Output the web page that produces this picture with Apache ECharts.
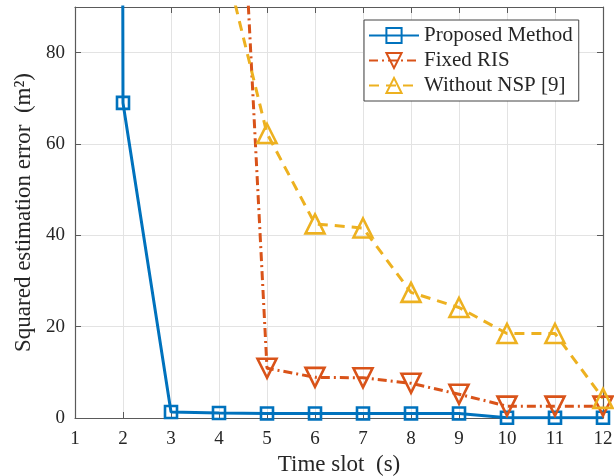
<!DOCTYPE html>
<html>
<head>
<meta charset="utf-8">
<script src="https://cdn.jsdelivr.net/npm/echarts@6/dist/echarts.min.js"></script>
<style>
html,body{margin:0;padding:0;background:#fff;overflow:hidden;}
#c{width:614px;height:476px;}
</style>
</head>
<body>
<div id="c"></div>
<script>
const timeSlots = [1,2,3,4,5,6,7,8,9,10,11,12];
const proposed = [5000, 69, 1.3, 1.1, 1.0, 1.0, 1.0, 1.0, 1.0, 0.05, 0.05, 0.05];
const fixedRIS = [215, 215, 215, 215, 10.9, 8.9, 8.8, 7.6, 5.2, 2.6, 2.6, 2.6];
const withoutNSP = [105, 105, 105, 105, 62.3, 42.5, 41.6, 27.5, 24.2, 18.5, 18.5, 4.3];
const seriesNames = ['Proposed Method', 'Fixed RIS', 'Without NSP [9]'];
const yTicks = [0, 20, 40, 60, 80];

// Fixed RIS / Without NSP start at slot 4 (off-scale there)
const fixedStart = 3, nspStart = 3;
function pairs(xs, ys, start) {
  const out = [];
  for (let i = start; i < xs.length; i++) out.push([xs[i], ys[i]]);
  return out;
}

const font = 'Liberation Serif';
const axisCol = '#5a5a5a';
const txtCol = '#262626';

const chart = echarts.init(document.getElementById('c'), null, {renderer: 'canvas'});
const colors = ['#0072BD', '#D95319', '#EDB120'];

function mk(name, data, color, symbol, rotate, size, ltype) {
  return {
    name: name, type: 'line', data: data, clip: true,
    symbol: symbol, symbolSize: size, symbolRotate: rotate,
    showSymbol: true,
    lineStyle: {color: color, width: 3, type: ltype},
    itemStyle: {color: 'rgba(255,255,255,0)', borderColor: color, borderWidth: 2.6},
    emphasis: {disabled: true},
    animation: false, z: 3
  };
}

function markers(data, max) {
  return data.map(p => ({value: p, symbolSize: p[1] > max ? 0 : undefined}));
}

const option = {
  animation: false,
  backgroundColor: '#fff',
  grid: {left: 75, right: 11, top: 7, bottom: 58, show: false, containLabel: false, outerBoundsMode: 'none'},
  legend: {
    orient: 'vertical', left: 364, top: 20,
    backgroundColor: '#fff', borderColor: '#444', borderWidth: 1,
    padding: [5, 6, 5, 4], itemGap: 4, itemWidth: 50, itemHeight: 19,
    textStyle: {fontFamily: font, fontSize: 21, color: txtCol},
    data: seriesNames
  },
  xAxis: [{
    type: 'value', min: 1, max: 12, interval: 1,
    name: 'Time slot  (s)', nameLocation: 'middle', nameGap: 35,
    nameTextStyle: {fontFamily: font, fontSize: 23, color: txtCol},
    axisLine: {show: true, lineStyle: {color: axisCol, width: 1.2}},
    axisTick: {show: true, inside: true, length: 6, lineStyle: {color: axisCol}},
    axisLabel: {fontFamily: font, fontSize: 19, color: txtCol, margin: 12},
    splitLine: {show: true, lineStyle: {color: '#e3e3e3', width: 1}}
  }, {
    type: 'value', min: 1, max: 12, interval: 1, position: 'top',
    axisLine: {show: true, onZero: false, lineStyle: {color: axisCol, width: 1.2}},
    axisTick: {show: true, inside: true, length: 6, lineStyle: {color: axisCol}},
    axisLabel: {show: false}, splitLine: {show: false}
  }],
  yAxis: [{
    type: 'value', min: 0, max: 90, interval: 20,
    name: 'Squared estimation error  (m\u00B2)', nameLocation: 'middle', nameGap: 37,
    nameTextStyle: {fontFamily: font, fontSize: 23, color: txtCol},
    axisLine: {show: true, lineStyle: {color: axisCol, width: 1.2}},
    axisTick: {show: true, inside: true, length: 6, lineStyle: {color: axisCol}},
    axisLabel: {fontFamily: font, fontSize: 19, color: txtCol, margin: 10,
      formatter: v => yTicks.includes(v) ? String(v) : ''},
    splitLine: {show: true, lineStyle: {color: '#e3e3e3', width: 1}}
  }, {
    type: 'value', min: 0, max: 90, interval: 20, position: 'right',
    axisLine: {show: true, onZero: false, lineStyle: {color: axisCol, width: 1.2}},
    axisTick: {show: true, inside: true, length: 6, lineStyle: {color: axisCol}},
    axisLabel: {show: false}, splitLine: {show: false}
  }],
  series: [
    mk(seriesNames[0], markers(pairs(timeSlots, proposed, 0), 90), colors[0], 'rect', 0, 12, 'solid'),
    mk(seriesNames[1], markers(pairs(timeSlots, fixedRIS, fixedStart), 90), colors[1], 'triangle', 180, 19, [9, 4, 2, 4]),
    mk(seriesNames[2], markers(pairs(timeSlots, withoutNSP, nspStart), 90), colors[2], 'triangle', 0, 19, [10, 7])
  ]
};
chart.setOption(option);
</script>
</body>
</html>
